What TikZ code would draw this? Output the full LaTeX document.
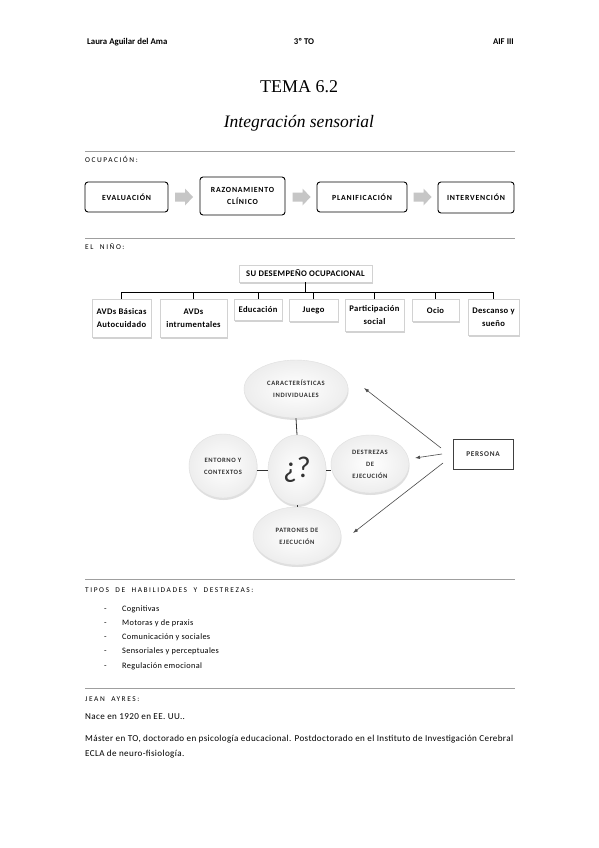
\documentclass[tikz,border=0pt]{standalone}
\usepackage{fontspec}
\setmainfont{Carlito}
\newfontfamily\titlefont{Liberation Serif}
\newfontfamily\spacedA[LetterSpace=21,WordSpace=2]{Carlito}
\newfontfamily\spacedB[LetterSpace=10]{Carlito}
\newfontfamily\spacedC[LetterSpace=4]{Carlito}
\newfontfamily\spacedD[LetterSpace=9]{Carlito}
\usetikzlibrary{shapes.geometric,shadows,arrows.meta}
\begin{document}
\begin{tikzpicture}[x=1pt,y=-1pt,
  hdr/.style={font=\bfseries\fontsize{8.8}{10}\selectfont, inner sep=0pt},
  sect/.style={font=\spacedA\fontsize{7.4}{8}\selectfont, text=black, anchor=west, inner sep=0pt, text height=5.5pt, text depth=1.5pt},
  body/.style={font=\spacedC\fontsize{9.1}{10}\selectfont, anchor=west, inner sep=0pt, text height=6.5pt, text depth=2pt},
  listt/.style={font=\spacedC\fontsize{8.3}{10}\selectfont, anchor=west, inner sep=0pt, text height=6pt, text depth=2pt},
  rulel/.style={draw=gray!75, line width=1pt},
  flowbox/.style={draw=black, line width=0.9pt, rounded corners=3pt, font=\spacedB\bfseries\fontsize{7.8}{12}\selectfont, align=center, inner sep=1pt},
  garrowfill/.style={fill=gray!45, draw=none},
  treebox/.style={draw=gray!35, fill=white, drop shadow={shadow xshift=1pt, shadow yshift=-1.5pt, opacity=0.35}, font=\spacedC\bfseries\fontsize{8.6}{13}\selectfont, align=center, inner sep=1pt, anchor=north},
  treeline/.style={draw=black, line width=0.8pt},
  bubble/.style={ellipse, draw=gray!25, inner color=white, outer color=gray!14, drop shadow={shadow xshift=0.5pt, shadow yshift=-2pt, opacity=0.25}, font=\spacedD\bfseries\fontsize{6.6}{12}\selectfont, text=black!80, align=center, inner sep=0pt},
  conn/.style={draw=black!80, line width=0.8pt},
  parrow/.style={draw=black!70, line width=0.6pt, -{Latex[length=5pt,width=3.5pt]}}
]
\useasboundingbox (0,0) rectangle (599,848);
\fill[white] (0,0) rectangle (599,848);

% header
\node[hdr, anchor=base west] (h1) at (87,45) {Laura Aguilar del Ama};
\node[hdr, anchor=base] (h2) at (304,45) {3º TO};
\node[hdr, anchor=base east] (h3) at (514,45) {AIF III};
\node[font=\titlefont\fontsize{18}{20}\selectfont, inner sep=0pt] (title) at (299,87) {TEMA 6.2};
\node[font=\titlefont\itshape\fontsize{17.5}{18}\selectfont, inner sep=0pt] (sub) at (299,123) {Integración sensorial};

% rules
\draw[rulel] (85,151) -- (515,151);
\draw[rulel] (85,238) -- (515,238);
\draw[rulel] (85,579) -- (515,579);
\draw[rulel] (85,688) -- (515,688);

% OCUPACION
\node[sect] (s1) at (85,160) {OCUPACIÓN:};
\node[flowbox, minimum width=83pt, minimum height=30pt] (eval) at (126.5,197) {EVALUACIÓN};
\node[flowbox, minimum width=85pt, minimum height=38pt] (razon) at (242.5,196) {RAZONAMIENTO\\CLÍNICO};
\node[flowbox, minimum width=90pt, minimum height=30pt] (plan) at (362,197) {PLANIFICACIÓN};
\node[flowbox, minimum width=76pt, minimum height=31pt] (inter) at (476,197.5) {INTERVENCIÓN};
\coordinate (ar1) at (184,197);
\coordinate (ar2) at (301.5,197);
\coordinate (ar3) at (422.5,197);
\foreach \a in {ar1,ar2,ar3} {
  \fill[garrowfill, shift={(\a)}] (-9,-4.5) -- (1,-4.5) -- (1,-8.5) -- (9,0) -- (1,8.5) -- (1,4.5) -- (-9,4.5) -- cycle;
}

% EL NINO
\node[sect] (s2) at (85,247) {EL NIÑO:};
\node[treebox, minimum width=133pt, minimum height=17pt, anchor=center] (root) at (305.5,273.5) {SU DESEMPEÑO OCUPACIONAL};
\node[treebox, minimum width=59pt, minimum height=38pt] (c1) at (121.5,299) {AVDs Básicas\\Autocuidado};
\node[treebox, minimum width=67pt, minimum height=38pt] (c2) at (193.5,299) {AVDs\\intrumentales};
\node[treebox, minimum width=48pt, minimum height=21pt] (c3) at (258,299) {Educación};
\node[treebox, minimum width=49pt, minimum height=22pt] (c4) at (313.5,299) {Juego};
\node[treebox, minimum width=59pt, minimum height=32pt] (c5) at (374.5,299) {Participación\\social};
\node[treebox, minimum width=47pt, minimum height=22pt] (c6) at (435.5,299) {Ocio};
\node[treebox, minimum width=51pt, minimum height=36pt] (c7) at (493.5,299) {Descanso y\\sueño};
\coordinate (bar) at (305.5,292);
\draw[treeline] (root.south) -- (bar);
\draw[treeline] (c1.north |- bar) -- (c7.north |- bar);
\foreach \c in {c1,c2,c3,c4,c5,c6,c7} {\draw[treeline] (\c.north |- bar) -- (\c.north);}

% bubbles
\node[bubble, minimum width=104pt, minimum height=58pt] (car) at (296,389) {CARACTERÍSTICAS\\INDIVIDUALES};
\node[bubble, minimum width=58pt, minimum height=70pt, font=\fontsize{30}{32}\selectfont, text=black!80] (q) at (297,470) {¿?};
\node[bubble, minimum width=68pt, minimum height=64pt] (ent) at (223,466) {ENTORNO Y\\CONTEXTOS};
\node[bubble, minimum width=78pt, minimum height=58pt] (des) at (370,464) {DESTREZAS\\DE\\EJECUCIÓN};
\node[bubble, minimum width=88pt, minimum height=58pt] (pat) at (297,536) {PATRONES DE\\EJECUCIÓN};
\draw[conn] (car.south) -- (q.north);
\draw[conn] (q.south) -- (pat.north);
\draw[conn] (q.west) -- (q.west -| ent.east);
\draw[conn] (q.east) -- (q.east -| des.west);

\node[draw=black!75, line width=0.9pt, minimum width=60pt, minimum height=30pt, font=\spacedB\bfseries\fontsize{7.3}{8}\selectfont, text=black!80, inner sep=0pt] (per) at (483,454) {PERSONA};
\coordinate (p1) at (441,448);
\coordinate (p2) at (442,454);
\coordinate (p3) at (443,463);
\coordinate (t1) at (364,388);
\coordinate (t2) at (415,458);
\coordinate (t3) at (353,533);
\draw[parrow] (p1) -- (t1);
\draw[parrow] (p2) -- (t2);
\draw[parrow] (p3) -- (t3);

% TIPOS
\node[sect] (s3) at (85,590) {TIPOS DE HABILIDADES Y DESTREZAS:};
\foreach \y/\t [count=\i] in {609/Cognitivas, 623/Motoras y de praxis, 637/Comunicación y sociales, 651/Sensoriales y perceptuales, 666/Regulación emocional} {
  \node[listt] (b\i) at (104,\y) {-};
  \node[listt] (l\i) at (122,\y) {\t};
}

% JEAN AYRES
\node[sect] (s4) at (85,699) {JEAN AYRES:};
\node[body] (n1) at (85,717) {Nace en 1920 en EE. UU..};
\node[body] (n2) at (85,739) {Máster en TO, doctorado en psicología educacional. Postdoctorado en el Instituto de Investigación Cerebral};
\node[body] (n3) at (85,754) {ECLA de neuro-fisiología.};
\end{tikzpicture}
\end{document}
